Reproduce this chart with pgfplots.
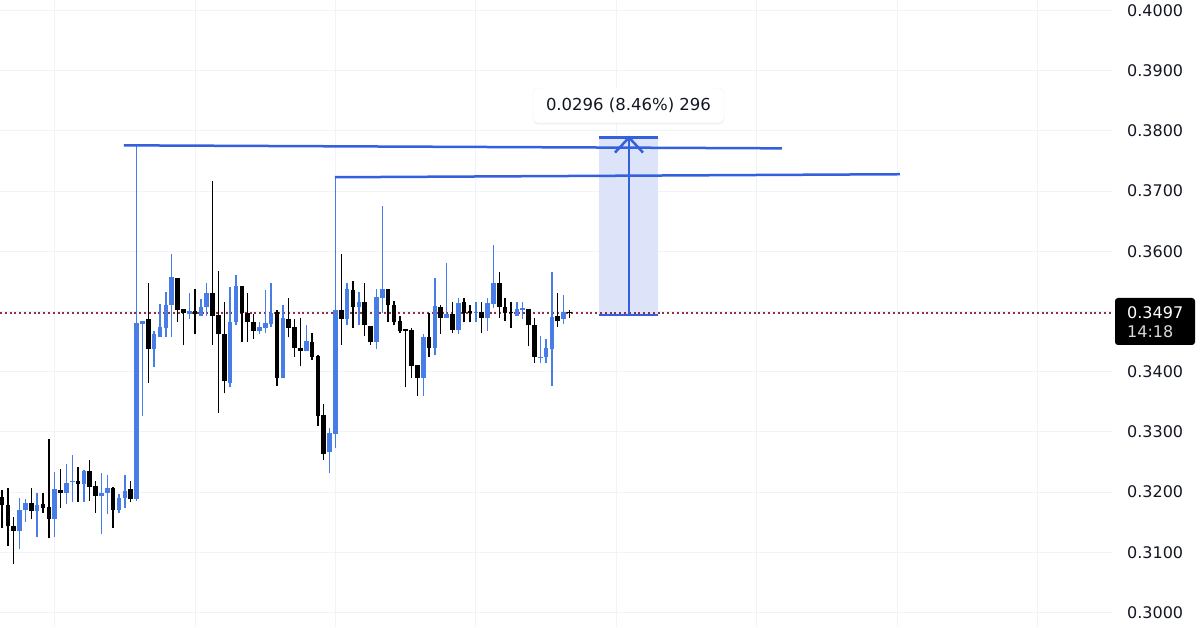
\documentclass[border=0pt]{standalone}
\usepackage{fontspec}
\setmainfont{DejaVu Sans}
\usepackage{pgfplots}
\pgfplotsset{compat=1.18}
\usepackage{pgfplotstable}
\usetikzlibrary{shadows}

\definecolor{cblue}{RGB}{72,125,232}
\definecolor{lblue}{RGB}{52,96,222}
\definecolor{shade}{RGB}{221,228,249}
\definecolor{dotc}{RGB}{150,45,60}
\definecolor{gridc}{RGB}{240,243,247}
\definecolor{tcol}{RGB}{19,23,34}

\pgfplotstableread{
k o h l c
0 0.3191 0.3203 0.3140 0.3178
1 0.3178 0.3206 0.3111 0.3143
2 0.3143 0.3158 0.3081 0.3135
5 0.3181 0.3206 0.3155 0.3168
7 0.3179 0.3198 0.3166 0.3173
8 0.3174 0.3289 0.3123 0.3156
10 0.3203 0.3239 0.3174 0.3199
13 0.3218 0.3241 0.3184 0.3213
15 0.3234 0.3253 0.3186 0.3209
16 0.3209 0.3218 0.3166 0.3193
19 0.3206 0.3208 0.3140 0.3171
22 0.3204 0.3218 0.3183 0.3188
25 0.3487 0.3547 0.3382 0.3437
30 0.3555 0.3555 0.3483 0.3502
31 0.3503 0.3503 0.3444 0.3497
33 0.3500 0.3538 0.3463 0.3495
36 0.3530 0.3716 0.3444 0.3493
37 0.3493 0.3568 0.3331 0.3462
38 0.3462 0.3515 0.3364 0.3385
41 0.3542 0.3542 0.3449 0.3497
42 0.3497 0.3530 0.3449 0.3482
43 0.3482 0.3495 0.3455 0.3468
47 0.3498 0.3503 0.3377 0.3390
49 0.3487 0.3523 0.3457 0.3473
50 0.3473 0.3488 0.3424 0.3439
51 0.3439 0.3490 0.3409 0.3434
53 0.3449 0.3465 0.3419 0.3425
54 0.3425 0.3427 0.3309 0.3326
55 0.3327 0.3347 0.3253 0.3264
58 0.3502 0.3596 0.3444 0.3488
60 0.3535 0.3551 0.3472 0.3507
62 0.3515 0.3547 0.3460 0.3477
63 0.3475 0.3475 0.3444 0.3449
66 0.3537 0.3537 0.3482 0.3510
67 0.3510 0.3518 0.3477 0.3483
68 0.3483 0.3493 0.3465 0.3468
69 0.3470 0.3470 0.3374 0.3467
70 0.3468 0.3472 0.3390 0.3409
71 0.3410 0.3410 0.3360 0.3389
73 0.3457 0.3498 0.3424 0.3440
75 0.3507 0.3510 0.3463 0.3490
77 0.3495 0.3515 0.3465 0.3470
79 0.3515 0.3523 0.3482 0.3497
80 0.3500 0.3510 0.3482 0.3497
82 0.3498 0.3515 0.3465 0.3490
85 0.3547 0.3566 0.3490 0.3507
86 0.3507 0.3523 0.3485 0.3497
87 0.3498 0.3515 0.3473 0.3497
90 0.3503 0.3503 0.3442 0.3477
91 0.3477 0.3490 0.3415 0.3424
95 0.3492 0.3530 0.3475 0.3485
97 0.3498 0.3502 0.3490 0.3497
}\downtab

\pgfplotstableread{
k o h l c
3 0.3135 0.3191 0.3105 0.3169
4 0.3171 0.3188 0.3150 0.3181
6 0.3169 0.3198 0.3125 0.3178
9 0.3155 0.3233 0.3125 0.3204
11 0.3199 0.3246 0.3181 0.3214
12 0.3217 0.3261 0.3183 0.3218
14 0.3213 0.3236 0.3183 0.3234
17 0.3194 0.3231 0.3130 0.3198
18 0.3198 0.3228 0.3163 0.3206
20 0.3171 0.3196 0.3166 0.3189
21 0.3191 0.3228 0.3174 0.3201
23 0.3189 0.3776 0.3186 0.3480
24 0.3480 0.3485 0.3327 0.3483
26 0.3437 0.3468 0.3407 0.3462
27 0.3458 0.3513 0.3457 0.3473
28 0.3472 0.3532 0.3457 0.3510
29 0.3510 0.3596 0.3458 0.3556
32 0.3495 0.3530 0.3488 0.3500
34 0.3493 0.3520 0.3492 0.3507
35 0.3507 0.3547 0.3493 0.3530
39 0.3382 0.3540 0.3374 0.3482
40 0.3482 0.3561 0.3477 0.3542
44 0.3468 0.3483 0.3463 0.3473
45 0.3473 0.3535 0.3465 0.3480
46 0.3480 0.3548 0.3475 0.3497
48 0.3390 0.3510 0.3390 0.3488
52 0.3434 0.3478 0.3434 0.3450
56 0.3266 0.3307 0.3231 0.3297
57 0.3297 0.3723 0.3274 0.3502
59 0.3488 0.3547 0.3478 0.3537
61 0.3507 0.3532 0.3477 0.3515
64 0.3449 0.3538 0.3437 0.3523
65 0.3523 0.3676 0.3497 0.3537
72 0.3390 0.3463 0.3360 0.3457
74 0.3440 0.3556 0.3427 0.3508
76 0.3490 0.3580 0.3490 0.3495
78 0.3470 0.3523 0.3463 0.3513
81 0.3497 0.3515 0.3482 0.3498
83 0.3490 0.3522 0.3468 0.3513
84 0.3513 0.3610 0.3505 0.3547
88 0.3493 0.3515 0.3493 0.3503
89 0.3502 0.3515 0.3488 0.3505
92 0.3422 0.3460 0.3414 0.3424
93 0.3424 0.3455 0.3415 0.3439
94 0.3437 0.3566 0.3377 0.3490
96 0.3487 0.3528 0.3480 0.3498
}\uptab

\begin{document}
\begin{tikzpicture}
\useasboundingbox (0,0) rectangle (1200pt,627pt);
\begin{axis}[
  at={(0pt,0pt)}, anchor=south west,
  scale only axis, width=1113pt, height=627pt,
  xmin=-0.342, xmax=189.91,
  ymin=0.297588, ymax=0.401744,
  axis line style={draw=none},
  major tick length=0pt,
  xtick={9,33,57,81,105,129,153,177},
  xticklabels={},
  ytick={0.30,0.31,0.32,0.33,0.34,0.35,0.36,0.37,0.38,0.39,0.40},
  yticklabels={0.3000,0.3100,0.3200,0.3300,0.3400,0.3500,0.3600,0.3700,0.3800,0.3900,0.4000},
  yticklabel pos=right,
  yticklabel style={anchor=west, inner sep=0pt, xshift=14pt, text=tcol, font=\fontsize{16}{16}\selectfont},
  grid=major,
  major grid style={draw=gridc, line width=1pt},
  clip=true,
  candle/.style={draw=none, mark=none, forget plot,
     error bars/.cd, y dir=plus, y explicit, error mark=none},
]
% measurement shading
\addplot[fill=shade, draw=none] coordinates {(102.05,0.3494) (112.1,0.3494) (112.1,0.3789) (102.05,0.3789)} -- cycle;

% current price dotted line
\addplot[dotc, line width=2pt, dash pattern=on 2pt off 2.8pt] coordinates {(-0.342,0.3497) (189.91,0.3497)};

% wicks
\addplot[candle, error bar style={draw=black, line width=1.4pt}]
  table[x=k, y=l, y error expr=\thisrow{h}-\thisrow{l}] {\downtab};
\addplot[candle, error bar style={draw=cblue, line width=1.4pt}]
  table[x=k, y=l, y error expr=\thisrow{h}-\thisrow{l}] {\uptab};
% bodies
\addplot[candle, error bar style={draw=black, line width=4.6pt}]
  table[x=k, y=c, y error expr=\thisrow{o}-\thisrow{c}+0.00008] {\downtab};
\addplot[candle, error bar style={draw=cblue, line width=4.6pt}]
  table[x=k, y=o, y error expr=\thisrow{c}-\thisrow{o}+0.00008] {\uptab};

% trend lines
\addplot[lblue, line width=2.5pt] coordinates {(20.85,0.3776) (133.3,0.3771)};
\addplot[lblue, line width=2.5pt] coordinates {(56.9,0.3723) (153.5,0.3728)};

% measurement tool
\addplot[lblue, line width=2.5pt] coordinates {(102.05,0.3494) (112.1,0.3494)};
\addplot[lblue, line width=2.5pt] coordinates {(102.05,0.3789) (112.1,0.3789)};
\addplot[lblue, line width=2.5pt] coordinates {(107.18,0.3494) (107.18,0.3789)};
\addplot[lblue, line width=2.5pt] coordinates {(104.79,0.3764) (107.18,0.3789) (109.57,0.3764)};
\end{axis}

% tooltip
\node[draw=gray!10, fill=white, rounded corners=5pt, minimum width=191pt, minimum height=35pt,
      drop shadow={shadow xshift=0pt, shadow yshift=-1.5pt, opacity=0.12},
      font=\fontsize{16.5}{16.5}\selectfont, text=tcol] at (628.5pt,521.5pt) {0.0296 (8.46\%) 296};

% price label
\fill[black, rounded corners=3pt] (1115pt,282pt) rectangle (1195pt,329pt);
\node[anchor=west, inner sep=0pt, text=white, font=\fontsize{16}{16}\selectfont] at (1127pt,314.5pt) {0.3497};
\node[anchor=west, inner sep=0pt, text=gray!30, font=\fontsize{16}{16}\selectfont] at (1127pt,295pt) {14:18};
\end{tikzpicture}
\end{document}
